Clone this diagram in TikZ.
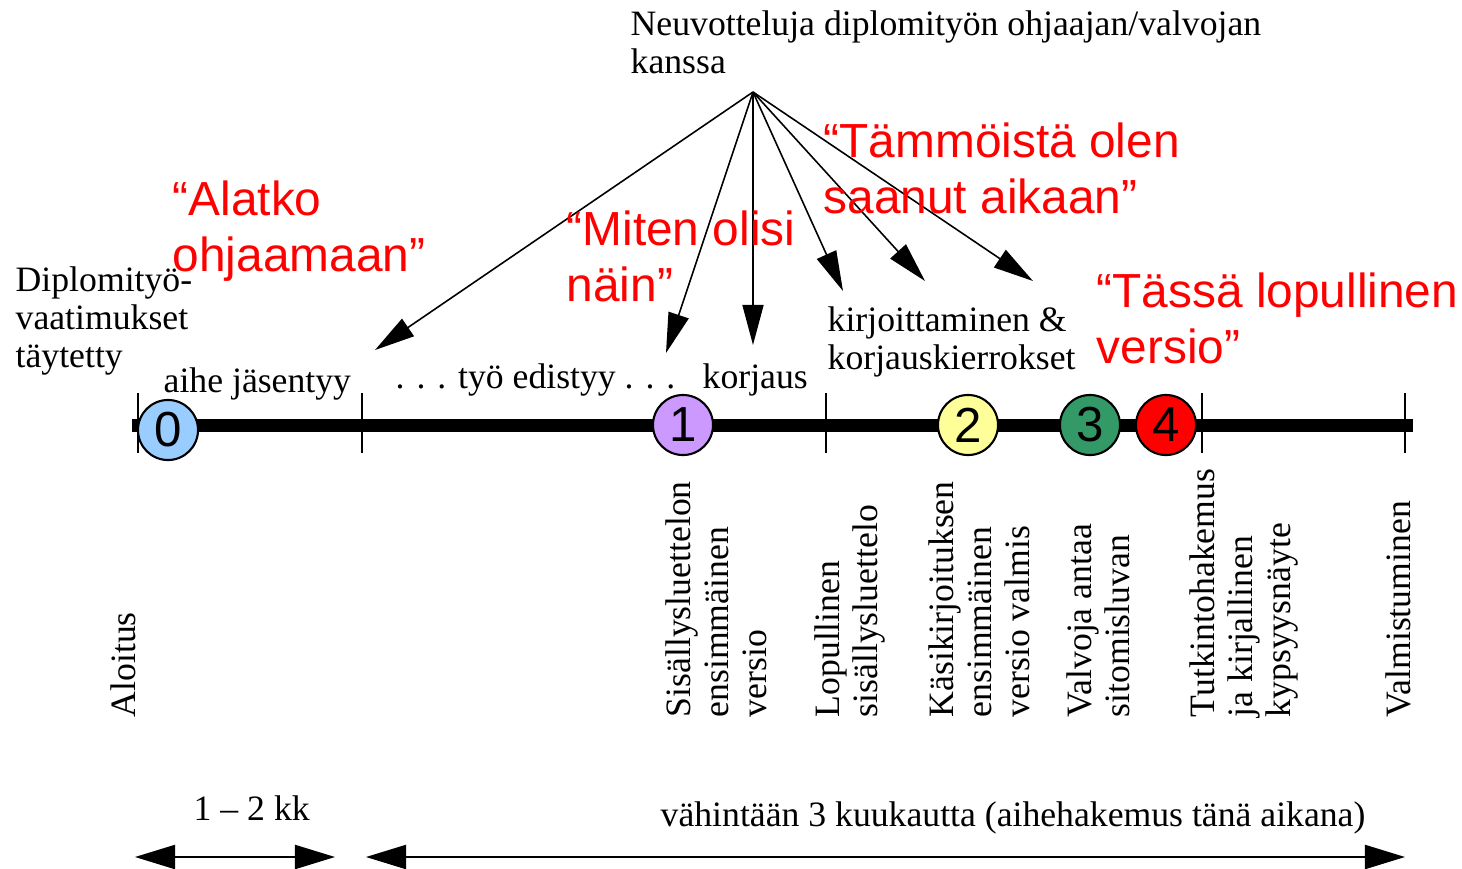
\documentclass[tikz,border=0pt]{standalone}
\usepackage{fontspec}
\setmainfont{Liberation Serif}
\setsansfont{Liberation Sans}
\usetikzlibrary{arrows.meta}
\definecolor{ballblue}{HTML}{99CCFF}
\definecolor{ballviolet}{HTML}{CC99FF}
\definecolor{ballyellow}{HTML}{FFFF99}
\definecolor{ballgreen}{HTML}{339966}
\tikzset{
  phase/.style={font=\fontsize{10.15}{10.8}\selectfont,inner sep=0pt,align=left},
  quote/.style={text=red,font=\sffamily\fontsize{13.6}{16}\selectfont,inner sep=0pt,align=left},
  event/.style={phase,rotate=90,anchor=north west},
  milestone/.style={circle,draw,line width=0.6pt,minimum size=0.6cm,inner sep=0pt,font=\sffamily\fontsize{14}{14}\selectfont},
  tick/.style={line width=0.5pt}
}

\begin{document}
\begin{tikzpicture}[x=0.01cm,y=-0.01cm,>={Triangle[length=0.4cm,width=0.21cm]}]
  \useasboundingbox (0,0) rectangle (1462,869);
  % aikajana
  \draw[line width=0.13cm] (132,425) -- (1413,425);
  \foreach \x in {138,362,826,1202,1405}
    \draw[tick] (\x,393) -- (\x,453);
  \node [milestone,fill=ballblue] (m0) at (168,430) {0};
  \node [milestone,fill=ballviolet] (m1) at (683,425) {1};
  \node [milestone,fill=ballyellow] (m2) at (968,425) {2};
  \node [milestone,fill=ballgreen] (m3) at (1090,425) {3};
  \node [milestone,fill=red] (m4) at (1166,425) {4};

  % neuvottelut
  \node [phase,anchor=north west] (meet) at (630,10) {Neuvotteluja diplomityön ohjaajan/valvojan\\kanssa};
  \coordinate (hub) at (753,92);
  \coordinate (a1) at (375,350);
  \coordinate (a2) at (666,353);
  \coordinate (a3) at (753,345);
  \coordinate (a4) at (843,291);
  \coordinate (a5) at (925,281);
  \coordinate (a6) at (1033,281);
  \foreach \t in {a1,a2,a3,a4,a5,a6}
    \draw[->,line width=0.45pt] (hub) -- (\t);

  % vaiheet
  \node [phase,anchor=north west] (req) at (15,266) {Diplomityö-\\vaatimukset\\täytetty};
  \node [phase,anchor=base west] (topic) at (163,392) {aihe jäsentyy};
  \node [phase,anchor=base west] (work) at (395,388) {. . . työ edistyy . . .};
  \node [phase,anchor=base west] (fix) at (702,388) {korjaus};
  \node [phase,anchor=north west] (write) at (827,306) {kirjoittaminen \&\\korjauskierrokset};

  % kommentit
  \node [quote,anchor=north west] (q0) at (172,180) {“Alatko\\ohjaamaan”};
  \node [quote,anchor=north west] (q1) at (566,210) {“Miten olisi\\näin”};
  \node [quote,anchor=north west] (q2) at (823,122) {“Tämmöistä olen\\saanut aikaan”};
  \node [quote,anchor=north west] (q4) at (1096,272) {“Tässä lopullinen\\versio”};

  % tapahtumat
  \node [event] (e0) at (110,718) {Aloitus};
  \node [event] (e1) at (665,718) {Sisällysluettelon\\ensimmäinen\\versio};
  \node [event] (e2) at (814,718) {Lopullinen\\sisällysluettelo};
  \node [event] (e3) at (928,718) {Käsikirjoituksen\\ensimmäinen\\versio valmis};
  \node [event] (e4) at (1066,718) {Valvoja antaa\\sitomisluvan};
  \node [event] (e5) at (1189,718) {Tutkintohakemus\\ja kirjallinen\\kypsyysnäyte};
  \node [event] (e6) at (1385,718) {Valmistuminen};

  % kestot
  \node [phase,anchor=base west] (span1) at (193,820) {1 – 2 kk};
  \node [phase,anchor=base west] (span2) at (660,826) {vähintään 3 kuukautta (aihehakemus tänä aikana)};
  \coordinate (s0) at (135,857);
  \coordinate (s1) at (335,857);
  \coordinate (s2) at (366,857);
  \coordinate (s3) at (1405,857);
  \draw[<->,>={Triangle[length=0.4cm,width=0.24cm]},line width=0.6pt] (s0) -- (s1);
  \draw[<->,>={Triangle[length=0.4cm,width=0.24cm]},line width=0.6pt] (s2) -- (s3);
\end{tikzpicture}
\end{document}
